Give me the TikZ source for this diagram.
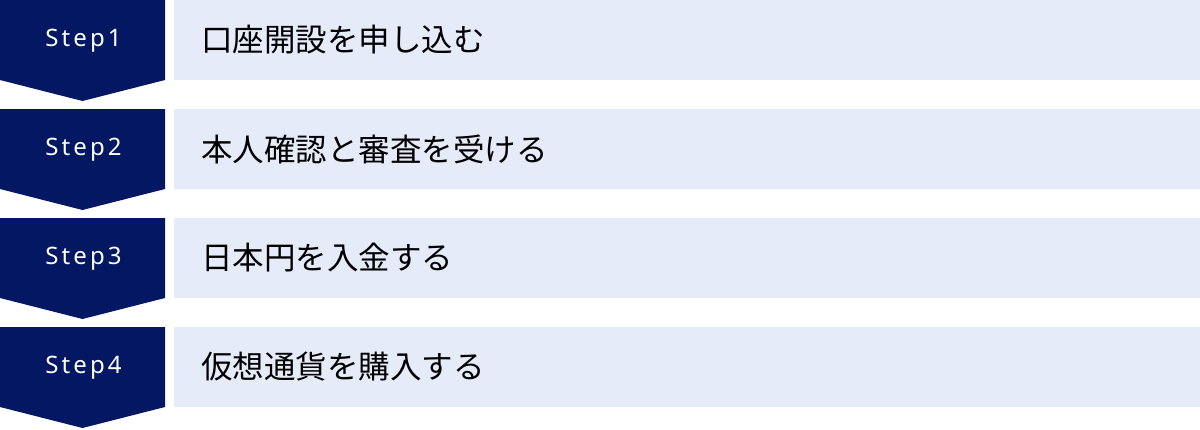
\documentclass[tikz,border=0pt]{standalone}
\usepackage{fontspec}
\newfontfamily\jpfont{Noto Sans CJK JP}
\newfontfamily\stepfont[LetterSpace=13]{Noto Sans}
\definecolor{navy}{HTML}{041762}
\definecolor{lightbg}{HTML}{E5EBF8}
\tikzset{
  x=1pt,y=1pt,
  stepshape/.style={fill=navy},
  bar/.style={fill=lightbg, draw=none},
  steplabel/.style={text=white, font=\stepfont\fontsize{24}{24}\selectfont, inner sep=0, anchor=center},
  itemlabel/.style={text=black, font=\jpfont\fontsize{31.5}{31.5}\selectfont, inner sep=0, anchor=west},
}
\begin{document}
\begin{tikzpicture}
\useasboundingbox (0,0) rectangle (1200,-429);
\foreach \i/\t/\txt in {1/0/口座開設を申し込む, 2/109/本人確認と審査を受ける, 3/218/日本円を入金する, 4/327/仮想通貨を購入する}{
  \fill[stepshape] (0,-\t) -- (165,-\t) -- (165,-\t-80) -- (82.5,-\t-101) -- (0,-\t-80) -- cycle;
  \fill[bar] (174,-\t) rectangle (1200,-\t-80);
  \node[steplabel] (s\i) at (83.5,-\t-41) {Step\i};
  \node[itemlabel] (t\i) at (201,-\t-40) {\txt};
}
\end{tikzpicture}
\end{document}
